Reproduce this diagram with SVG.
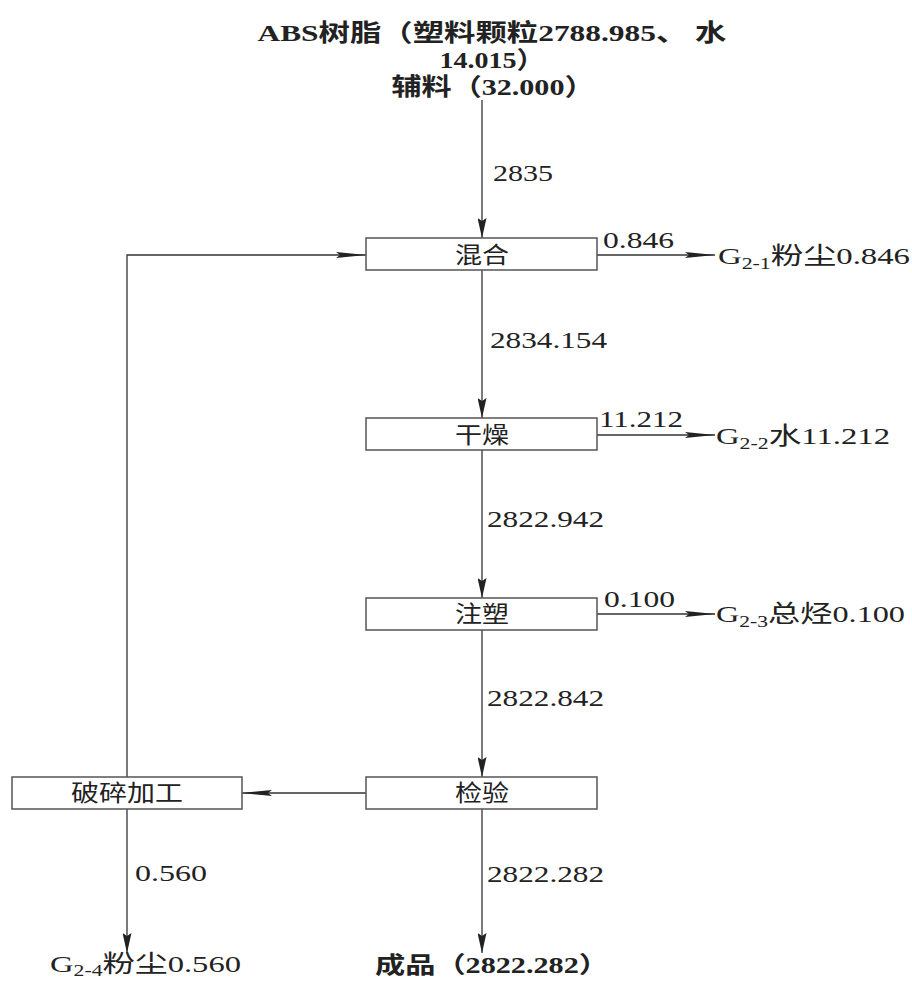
<svg xmlns="http://www.w3.org/2000/svg" width="912" height="981" viewBox="0 0 912 981">
<style>
.box{fill:#fff;stroke:#555;stroke-width:1.5}
.ln{fill:none;stroke:#333;stroke-width:1.3}
.t{font-family:"Liberation Serif","Noto Sans CJK SC",serif;font-size:23px;fill:#222}
.g{font-size:24px}
.b{font-weight:bold}
.c{text-anchor:middle}
</style>
<defs>
<marker id="av" markerUnits="userSpaceOnUse" markerWidth="20" markerHeight="9" viewBox="0 0 20 9" refX="20" refY="4.5" orient="auto">
<path d="M0,0 L20,4.5 L0,9 L3,4.5 Z" fill="#222"/>
</marker>
<marker id="ah" markerUnits="userSpaceOnUse" markerWidth="30" markerHeight="7" viewBox="0 0 30 7" refX="30" refY="3.5" orient="auto">
<path d="M0,0.5 L30,3.5 L0,6.5 L4,3.5 Z" fill="#222"/>
</marker>
</defs>
<g id="title">
<text class="t g b c" x="492" y="41" textLength="469" lengthAdjust="spacingAndGlyphs">ABS树脂（塑料颗粒2788.985、 水</text>
<text class="t g b c" x="492" y="68" textLength="105" lengthAdjust="spacingAndGlyphs">14.015）</text>
<text class="t g b c" x="493" y="95" textLength="203" lengthAdjust="spacingAndGlyphs">辅料（32.000）</text>
</g>
<g id="connectors">
<line class="ln" x1="482" y1="100" x2="482" y2="238" marker-end="url(#av)"/>
<line class="ln" x1="482" y1="270" x2="482" y2="418" marker-end="url(#av)"/>
<line class="ln" x1="482" y1="450" x2="482" y2="598" marker-end="url(#av)"/>
<line class="ln" x1="482" y1="630" x2="482" y2="777" marker-end="url(#av)"/>
<line class="ln" x1="482" y1="809" x2="482" y2="953" marker-end="url(#av)"/>
<line class="ln" x1="597" y1="255" x2="715" y2="255" marker-end="url(#ah)"/>
<line class="ln" x1="597" y1="435" x2="715" y2="435" marker-end="url(#ah)"/>
<line class="ln" x1="597" y1="614" x2="715" y2="614" marker-end="url(#ah)"/>
<line class="ln" x1="366" y1="793" x2="242" y2="793" marker-end="url(#ah)"/>
<polyline class="ln" points="127,777 127,255 366,255" marker-end="url(#ah)"/>
<line class="ln" x1="127" y1="809" x2="127" y2="953" marker-end="url(#av)"/>
</g>
<g id="flow-labels">
<text class="t" x="493" y="181" textLength="60" lengthAdjust="spacingAndGlyphs">2835</text>
<text class="t" x="490" y="348" textLength="117" lengthAdjust="spacingAndGlyphs">2834.154</text>
<text class="t" x="487" y="527" textLength="117" lengthAdjust="spacingAndGlyphs">2822.942</text>
<text class="t" x="487" y="706" textLength="117" lengthAdjust="spacingAndGlyphs">2822.842</text>
<text class="t" x="487" y="882" textLength="117" lengthAdjust="spacingAndGlyphs">2822.282</text>
<text class="t" x="135" y="881" textLength="72" lengthAdjust="spacingAndGlyphs">0.560</text>
<text class="t" x="603" y="248" textLength="71" lengthAdjust="spacingAndGlyphs">0.846</text>
<text class="t" x="599" y="427" textLength="84" lengthAdjust="spacingAndGlyphs">11.212</text>
<text class="t" x="604" y="607" textLength="71" lengthAdjust="spacingAndGlyphs">0.100</text>
</g>
<g id="hunhe">
<rect class="box" x="366" y="238" width="231" height="32"/>
<text class="t c" x="482" y="263" textLength="54" lengthAdjust="spacingAndGlyphs">混合</text>
</g>
<g id="ganzao">
<rect class="box" x="366" y="418" width="231" height="32"/>
<text class="t c" x="482" y="443" textLength="54" lengthAdjust="spacingAndGlyphs">干燥</text>
</g>
<g id="zhusu">
<rect class="box" x="366" y="598" width="231" height="32"/>
<text class="t c" x="482" y="622" textLength="54" lengthAdjust="spacingAndGlyphs">注塑</text>
</g>
<g id="jianyan">
<rect class="box" x="366" y="777" width="231" height="32"/>
<text class="t c" x="482" y="801" textLength="54" lengthAdjust="spacingAndGlyphs">检验</text>
</g>
<g id="posui">
<rect class="box" x="12" y="777" width="230" height="32"/>
<text class="t c" x="127" y="801" textLength="112" lengthAdjust="spacingAndGlyphs">破碎加工</text>
</g>
<g id="g21">
<text class="t g" x="718" y="264" textLength="192" lengthAdjust="spacingAndGlyphs">G<tspan font-size="16" dy="5">2-1</tspan><tspan dy="-5">粉尘0.846</tspan></text>
</g>
<g id="g22">
<text class="t g" x="716" y="444" textLength="174" lengthAdjust="spacingAndGlyphs">G<tspan font-size="16" dy="5">2-2</tspan><tspan dy="-5">水11.212</tspan></text>
</g>
<g id="g23">
<text class="t g" x="716" y="622" textLength="189" lengthAdjust="spacingAndGlyphs">G<tspan font-size="16" dy="5">2-3</tspan><tspan dy="-5">总烃0.100</tspan></text>
</g>
<g id="g24">
<text class="t g" x="50" y="972" textLength="191" lengthAdjust="spacingAndGlyphs">G<tspan font-size="16" dy="4">2-4</tspan><tspan dy="-4">粉尘0.560</tspan></text>
</g>
<g id="product">
<text class="t b" x="375" y="973" textLength="234" lengthAdjust="spacingAndGlyphs">成品（2822.282）</text>
</g>
</svg>
